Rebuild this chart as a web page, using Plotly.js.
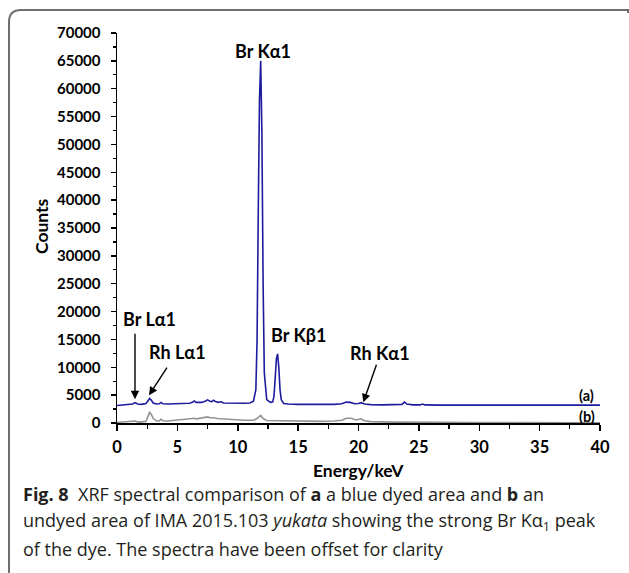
<!DOCTYPE html>
<html>
<head>
<meta charset="utf-8">
<script src="https://cdn.plot.ly/plotly-3.0.1.min.js"></script>
<style>
  html, body { margin: 0; padding: 0; background: #fff; }
  #chart { width: 629px; height: 573px; }
</style>
</head>
<body>
<div id="chart"></div>
<script>
// Spectrum (a): blue dyed area (offset)
const energyA = [0, 0.5, 1.0, 1.3, 1.5, 1.7, 2.0, 2.4, 2.6, 2.7, 2.8, 3.0, 3.3, 3.5, 3.65, 3.8, 4.2, 5.0, 6.0, 6.25, 6.4, 6.55, 7.0, 7.3, 7.5, 7.7, 7.85, 8.0, 8.15, 8.4, 8.6, 8.8, 9.5, 10.5, 11.0, 11.3, 11.5, 11.6, 11.7, 11.8, 11.9, 12.0, 12.1, 12.2, 12.4, 12.7, 12.9, 13.0, 13.1, 13.2, 13.3, 13.4, 13.5, 13.6, 13.8, 14.2, 15, 16, 17, 18, 18.6, 19.0, 19.3, 19.7, 20.0, 20.2, 20.5, 21, 22, 23, 23.6, 23.8, 24.0, 24.5, 25.1, 25.3, 25.5, 27, 30, 35, 40];
const countsA = [3150, 3250, 3300, 3400, 3650, 3400, 3350, 3500, 4100, 4400, 4200, 3600, 3400, 3450, 3700, 3450, 3400, 3450, 3550, 3700, 3950, 3700, 3700, 3900, 4150, 3900, 3850, 4100, 3850, 3700, 3850, 3600, 3550, 3550, 3600, 3900, 6000, 15000, 38000, 58000, 65000, 52000, 25000, 9000, 4200, 3700, 3800, 4800, 8000, 11500, 12400, 10000, 6000, 4200, 3500, 3400, 3350, 3350, 3300, 3350, 3450, 3750, 3700, 3450, 3500, 3650, 3400, 3300, 3250, 3250, 3350, 3750, 3400, 3250, 3250, 3400, 3250, 3200, 3200, 3200, 3200];

// Spectrum (b): undyed area
const energyB = [0, 1.0, 1.5, 1.7, 2.0, 2.4, 2.6, 2.7, 2.85, 3.0, 3.3, 3.5, 3.65, 3.8, 4.2, 5.0, 6.0, 6.25, 6.4, 6.6, 7.0, 7.3, 7.5, 7.7, 8.0, 8.3, 8.6, 9.5, 10.5, 11.3, 11.6, 11.9, 12.1, 12.4, 13.3, 15, 17, 18, 18.6, 19.0, 19.4, 19.8, 20.2, 20.5, 21, 23, 25, 30, 40];
const countsB = [100, 200, 350, 200, 150, 300, 1400, 1900, 1500, 800, 350, 350, 700, 400, 350, 500, 650, 750, 850, 750, 850, 950, 1100, 950, 950, 800, 750, 600, 500, 500, 800, 1350, 800, 450, 400, 300, 300, 350, 500, 850, 850, 550, 750, 400, 250, 150, 100, 80, 50];

const xTickVals = [0, 5, 10, 15, 20, 25, 30, 35, 40];
const yTickVals = [0, 5000, 10000, 15000, 20000, 25000, 30000, 35000, 40000, 45000, 50000, 55000, 60000, 65000, 70000];

const captionLines = [
  '<b>Fig. 8</b>  XRF spectral comparison of <b>a</b> a blue dyed area and <b>b</b> an',
  'undyed area of IMA 2015.103 <i>yukata</i> showing the strong Br Kα<sub>1</sub> peak',
  'of the dye. The spectra have been offset for clarity'
];

const FONT = 'Lato, "Open Sans", sans-serif';

const traces = [
  { x: energyB, y: countsB, type: 'scatter', mode: 'lines',
    line: { color: '#939393', width: 1.6 }, hoverinfo: 'skip' },
  { x: energyA, y: countsA, type: 'scatter', mode: 'lines',
    line: { color: '#1c1c9e', width: 1.6 }, hoverinfo: 'skip' }
];

function lbl(text, x, y, size) {
  return { text: '<b>' + text + '</b>', x: x, y: y, xref: 'x', yref: 'y',
           showarrow: false, xanchor: 'center', yanchor: 'middle',
           font: { family: FONT, size: size || 18, color: '#000' } };
}
function arr(x, y, ax, ay) {
  return { text: '', x: x, y: y, ax: ax, ay: ay, xref: 'x', yref: 'y', axref: 'x', ayref: 'y',
           showarrow: true, arrowhead: 2, arrowsize: 1.2, arrowwidth: 1.4, arrowcolor: '#000' };
}

const L = 117, R = 600, T = 33, B = 423, W = 629, H = 573;
const px = v => (v - L) / (R - L);
const py = v => (B - v) / (B - T);

const annotations = [
  lbl('Br Kα1', 12.09, 66800),
  lbl('Br Lα1', 2.73, 18640),
  lbl('Rh Lα1', 5.05, 12710),
  lbl('Br Kβ1', 14.99, 15770),
  lbl('Rh Kα1', 21.78, 12530),
  lbl('(a)', 38.92, 4980, 14.5),
  lbl('(b)', 38.92, 1250, 14.5),
  arr(1.49, 4260, 1.49, 16300),
  arr(2.65, 4980, 4.22, 10190),
  arr(20.4, 3720, 21.53, 10730),
  { text: '<b>Energy/keV</b>', x: px(358.5), y: py(470), xref: 'paper', yref: 'paper',
    showarrow: false, xanchor: 'center', yanchor: 'middle',
    font: { family: FONT, size: 17.5, color: '#000' } },
  { text: '<b>Counts</b>', x: px(41), y: py(226), xref: 'paper', yref: 'paper', textangle: -90,
    showarrow: false, xanchor: 'center', yanchor: 'middle',
    font: { family: FONT, size: 17.5, color: '#000' } }
];
const capY = [494, 521.5, 549];
captionLines.forEach((t, i) => {
  annotations.push({ text: t, x: px(21), y: py(capY[i]), xref: 'paper', yref: 'paper',
    showarrow: false, xanchor: 'left', yanchor: 'middle', align: 'left',
    font: { family: '"Open Sans", sans-serif', size: 18, color: '#231f20' } });
});

// Figure frame: left and top border with a rounded top-left corner (paper coordinates)
const fx0 = px(9), fx1 = px(628), fy0 = py(580), fy1 = py(10);
const rx = 12 / (R - L), ry = 12 / (B - T);
const framePath = 'M ' + fx0 + ',' + fy0 + ' L ' + fx0 + ',' + (fy1 - ry) +
  ' Q ' + fx0 + ',' + fy1 + ' ' + (fx0 + rx) + ',' + fy1 +
  ' L ' + fx1 + ',' + fy1 + ' L ' + fx1 + ',' + (fy1 - 3 / (B - T));

const layout = {
  width: W, height: H,
  margin: { l: L, r: W - R, t: T, b: H - B, pad: 0 },
  paper_bgcolor: '#fff', plot_bgcolor: '#fff',
  showlegend: false,
  shapes: [{ type: 'path', xref: 'paper', yref: 'paper', path: framePath,
             line: { color: '#6f6f6f', width: 2 }, layer: 'above' }],
  xaxis: {
    range: [0, 40], tickvals: xTickVals, ticktext: xTickVals.map(String),
    showgrid: false, zeroline: false, showline: true, linecolor: '#000', linewidth: 1.5,
    ticks: 'outside', ticklen: 6, tickwidth: 1.5, tickcolor: '#000',
    minor: { dtick: 2.5, ticks: 'outside', ticklen: 4, tickwidth: 1.2, tickcolor: '#000', showgrid: false },
    tickfont: { family: FONT, size: 16.5, color: '#000', weight: 'bold' },
    ticklabelstandoff: 3,
    fixedrange: true
  },
  yaxis: {
    range: [0, 70000], tickvals: yTickVals, ticktext: yTickVals.map(String),
    showgrid: false, zeroline: false, showline: true, linecolor: '#000', linewidth: 1.5,
    ticks: 'outside', ticklen: 5, tickwidth: 1.5, tickcolor: '#000',
    minor: { dtick: 2500, ticks: 'outside', ticklen: 3, tickwidth: 1.2, tickcolor: '#000', showgrid: false },
    tickfont: { family: FONT, size: 15, color: '#000', weight: 'bold' },
    ticklabelstandoff: 7,
    fixedrange: true
  },
  annotations: annotations
};

Plotly.newPlot('chart', traces, layout, { staticPlot: true, displayModeBar: false });
</script>
</body>
</html>
